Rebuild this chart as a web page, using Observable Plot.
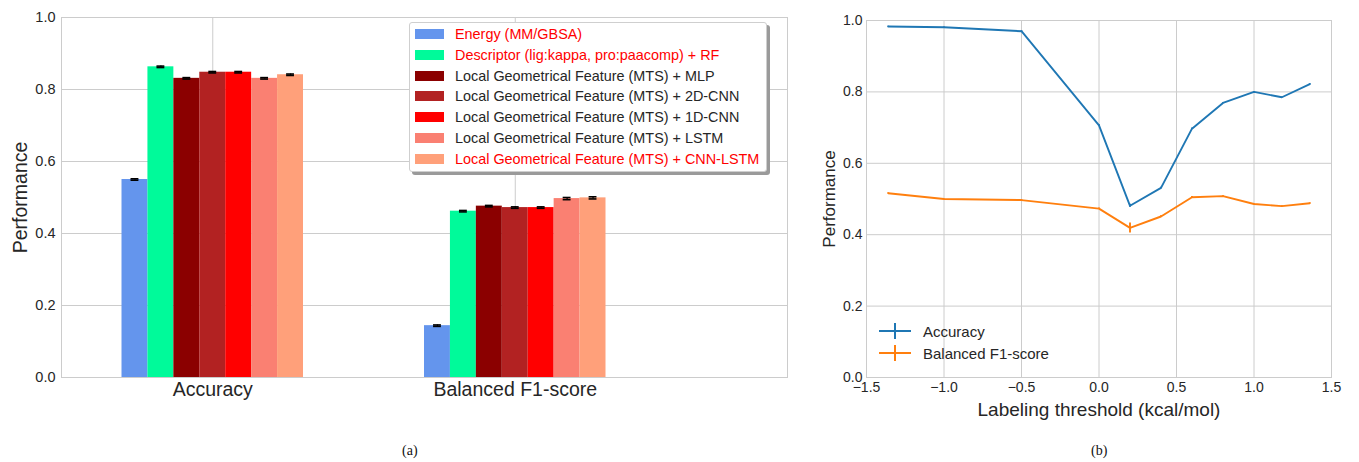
<!DOCTYPE html>
<html><head><meta charset="utf-8">
<script src="https://cdn.jsdelivr.net/npm/d3@7"></script>
<script src="https://cdn.jsdelivr.net/npm/@observablehq/plot@0.6"></script>
<style>
body{margin:0;background:#fff;font-family:"Liberation Sans",Arial,sans-serif;}
#wrap{position:relative;width:1359px;height:462px;overflow:hidden;background:#fff}
#left{position:absolute;left:0;top:0}
#right{position:absolute;left:800px;top:0}
#legendA{position:absolute;left:409px;top:22px;width:356px;height:148px;border:1px solid #cfcfcf;border-radius:3px;background:#fff;box-shadow:3px 3px 0 #9a9a9a;font-size:14.4px;color:#262626}
#legendA .row{position:absolute;left:5px;height:20px;display:flex;align-items:center;white-space:nowrap}
#legendA .sw{width:29px;height:10px;margin-right:11px;flex:none}
#legendB{position:absolute;left:876px;top:320px;font-size:15px;color:#262626}
#legendB .row{display:flex;align-items:center;height:22px;white-space:nowrap}
#legendB svg{margin-right:11px}
.cap{position:absolute;top:443px;font-family:"Liberation Serif","Times New Roman",serif;font-size:14px;color:#111}
</style></head>
<body><div id="wrap">
<div id="left"></div><div id="right"></div>
<div id="legendA"></div><div id="legendB"></div>
<div class="cap" style="left:402px">(a)</div>
<div class="cap" style="left:1091px">(b)</div>
</div>
<script>
// ---------- data: panel (a)
const groups = ["Accuracy", "Balanced F1-score"];
const methods = [
  "Energy (MM/GBSA)",
  "Descriptor (lig:kappa, pro:paacomp) + RF",
  "Local Geometrical Feature (MTS) + MLP",
  "Local Geometrical Feature (MTS) + 2D-CNN",
  "Local Geometrical Feature (MTS) + 1D-CNN",
  "Local Geometrical Feature (MTS) + LSTM",
  "Local Geometrical Feature (MTS) + CNN-LSTM"
];
const methodColors = ["#6495ed", "#00fa9a", "#8b0000", "#b22222", "#ff0000", "#fa8072", "#ffa07a"];
const legendTextColors = ["#ff0000", "#ff0000", "#262626", "#262626", "#262626", "#262626", "#ff0000"];
const accuracyValues = [0.550, 0.863, 0.831, 0.848, 0.848, 0.831, 0.841];
const accuracyErrors = [0.002, 0.002, 0.002, 0.002, 0.002, 0.002, 0.002];
const f1Values = [0.144, 0.462, 0.476, 0.472, 0.472, 0.497, 0.499];
const f1Errors = [0.002, 0.002, 0.002, 0.002, 0.002, 0.003, 0.003];
const barTicksY = [0, 0.2, 0.4, 0.6, 0.8, 1.0];

// ---------- data: panel (b)
const thresholds = [-1.36, -1.0, -0.5, 0.0, 0.2, 0.4, 0.6, 0.8, 1.0, 1.18, 1.36];
const accuracyByThreshold = [0.983, 0.981, 0.970, 0.706, 0.481, 0.531, 0.697, 0.769, 0.800, 0.785, 0.822];
const accuracyErrByThreshold = [0.001, 0.001, 0.001, 0.002, 0.004, 0.002, 0.002, 0.001, 0.001, 0.001, 0.001];
const f1ByThreshold = [0.516, 0.500, 0.497, 0.473, 0.419, 0.451, 0.505, 0.508, 0.486, 0.480, 0.488];
const f1ErrByThreshold = [0.001, 0.001, 0.001, 0.002, 0.014, 0.002, 0.002, 0.001, 0.001, 0.001, 0.001];
const seriesNames = ["Accuracy", "Balanced F1-score"];
const seriesColors = ["#1f77b4", "#ff7f0e"];
const lineTicksX = [-1.5, -1.0, -0.5, 0.0, 0.5, 1.0, 1.5];
const lineTicksY = [0, 0.2, 0.4, 0.6, 0.8, 1.0];

const GRID = "#cccccc", TXT = "#262626", FONT = "'Liberation Sans', Arial, sans-serif";
const fmt1 = d3.format(".1f");

// ---------- panel (a)
const groupWidth = 0.6, bw = groupWidth / methods.length;
const bars = [];
groups.forEach((g, gi) => {
  const vals = gi === 0 ? accuracyValues : f1Values;
  const errs = gi === 0 ? accuracyErrors : f1Errors;
  methods.forEach((m, mi) => {
    const xc = gi + (mi - (methods.length - 1) / 2) * bw;
    bars.push({group: g, method: m, xc, value: vals[mi], err: errs[mi]});
  });
});
const capHalf = 0.013;
const left = Plot.plot({
  width: 800, height: 420,
  marginLeft: 61, marginRight: 13, marginTop: 17, marginBottom: 43,
  style: {fontFamily: FONT, color: TXT, background: "#fff"},
  x: {type: "linear", domain: [-0.5, 1.9]},
  y: {domain: [0, 1]},
  color: {domain: methods, range: methodColors},
  marks: [
    Plot.gridY(barTicksY, {stroke: GRID, strokeOpacity: 1, strokeWidth: 1}),
    Plot.gridX([0, 1], {stroke: GRID, strokeOpacity: 1, strokeWidth: 1}),
    Plot.frame({stroke: GRID, strokeWidth: 1}),
    Plot.rectY(bars, {x1: d => d.xc - bw / 2, x2: d => d.xc + bw / 2, y: "value", fill: "method", insetLeft: 0, insetRight: 0}),
    Plot.ruleX(bars, {x: "xc", y1: d => d.value - d.err, y2: d => d.value + d.err, stroke: "black", strokeWidth: 1.2}),
    Plot.ruleY(bars, {x1: d => d.xc - capHalf, x2: d => d.xc + capHalf, y: d => d.value + d.err, stroke: "black", strokeWidth: 1.6}),
    Plot.ruleY(bars, {x1: d => d.xc - capHalf, x2: d => d.xc + capHalf, y: d => d.value - d.err, stroke: "black", strokeWidth: 1.6}),
    Plot.axisY({ticks: barTicksY, tickFormat: fmt1, tickSize: 0, tickPadding: 6, fontSize: 14.5, label: null, fill: TXT}),
    Plot.axisY({ticks: [], label: "Performance", labelAnchor: "center", labelArrow: "none", labelOffset: 48, fontSize: 19.5, fill: TXT}),
    Plot.axisX({ticks: [0, 1], tickFormat: i => groups[i], tickSize: 0, tickPadding: 5, fontSize: 19.5, label: null, fill: TXT})
  ]
});
document.getElementById("left").appendChild(left);

// legend (a)
const legA = document.getElementById("legendA");
methods.forEach((m, i) => {
  const row = document.createElement("div");
  row.className = "row";
  row.style.top = (1 + i * 20.8) + "px";
  row.innerHTML = `<div class="sw" style="background:${methodColors[i]}"></div><span style="color:${legendTextColors[i]}">${m}</span>`;
  legA.appendChild(row);
});

// ---------- panel (b)
const pts = [];
thresholds.forEach((t, i) => {
  pts.push({series: seriesNames[0], t, v: accuracyByThreshold[i], e: accuracyErrByThreshold[i]});
  pts.push({series: seriesNames[1], t, v: f1ByThreshold[i], e: f1ErrByThreshold[i]});
});
const right = Plot.plot({
  width: 559, height: 430,
  marginLeft: 66, marginRight: 28, marginTop: 20, marginBottom: 53,
  style: {fontFamily: FONT, color: TXT, background: "transparent"},
  x: {domain: [-1.5, 1.5]},
  y: {domain: [0, 1]},
  color: {domain: seriesNames, range: seriesColors},
  marks: [
    Plot.gridY(lineTicksY, {stroke: GRID, strokeOpacity: 1}),
    Plot.gridX(lineTicksX, {stroke: GRID, strokeOpacity: 1}),
    Plot.frame({stroke: GRID}),
    Plot.ruleX(pts, {x: "t", y1: d => d.v - d.e, y2: d => d.v + d.e, stroke: "series", strokeWidth: 1.9}),
    Plot.line(pts, {x: "t", y: "v", z: "series", stroke: "series", strokeWidth: 1.9}),
    Plot.axisY({ticks: lineTicksY, tickFormat: fmt1, tickSize: 0, tickPadding: 4, fontSize: 14, label: null, fill: TXT}),
    Plot.axisY({ticks: [], label: "Performance", labelAnchor: "center", labelArrow: "none", labelOffset: 44, fontSize: 17, fill: TXT}),
    Plot.axisX({ticks: lineTicksX, tickFormat: fmt1, tickSize: 0, tickPadding: 5, fontSize: 14, label: null, fill: TXT}),
    Plot.axisX({ticks: [], label: "Labeling threshold (kcal/mol)", labelAnchor: "center", labelArrow: "none", labelOffset: 38, fontSize: 19, fill: TXT})
  ]
});
document.getElementById("right").appendChild(right);

// legend (b)
const legB = document.getElementById("legendB");
seriesNames.forEach((s, i) => {
  const row = document.createElement("div");
  row.className = "row";
  row.innerHTML = `<svg width="36" height="18"><line x1="3" x2="35" y1="9" y2="9" stroke="${seriesColors[i]}" stroke-width="2"/><line x1="19" x2="19" y1="1" y2="17" stroke="${seriesColors[i]}" stroke-width="2"/></svg><span>${s}</span>`;
  legB.appendChild(row);
});
</script>
</body></html>
